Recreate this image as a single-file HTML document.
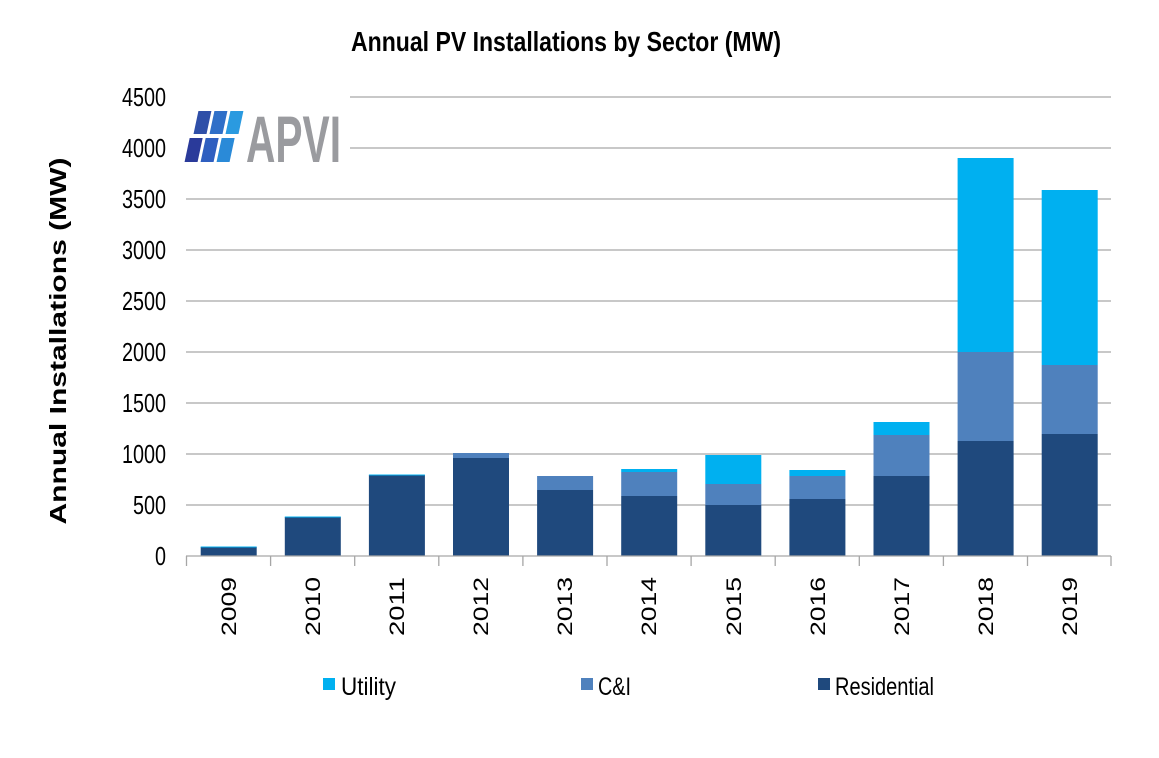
<!DOCTYPE html>
<html><head><meta charset="utf-8"><style>html,body{margin:0;padding:0;background:#fff}svg{display:block}</style></head>
<body>
<svg width="1159" height="758" viewBox="0 0 1159 758" xmlns="http://www.w3.org/2000/svg" font-family="Liberation Sans, sans-serif">
<rect width="1159" height="758" fill="#fff"/>
<text x="351" y="51" font-size="28" font-weight="bold" textLength="430" lengthAdjust="spacingAndGlyphs">Annual PV Installations by Sector (MW)</text>
<g stroke="#a6a6a6" stroke-width="1.3">
<line x1="350" y1="97" x2="1111" y2="97"/><line x1="350" y1="148" x2="1111" y2="148"/>
<line x1="186" y1="199" x2="1111" y2="199"/><line x1="186" y1="250" x2="1111" y2="250"/>
<line x1="186" y1="301" x2="1111" y2="301"/><line x1="186" y1="352" x2="1111" y2="352"/>
<line x1="186" y1="403" x2="1111" y2="403"/><line x1="186" y1="454" x2="1111" y2="454"/>
<line x1="186" y1="505" x2="1111" y2="505"/>
</g>
<g font-size="26" text-anchor="end">
<text x="166" y="106" textLength="44" lengthAdjust="spacingAndGlyphs">4500</text>
<text x="166" y="157" textLength="44" lengthAdjust="spacingAndGlyphs">4000</text>
<text x="166" y="208" textLength="44" lengthAdjust="spacingAndGlyphs">3500</text>
<text x="166" y="259" textLength="44" lengthAdjust="spacingAndGlyphs">3000</text>
<text x="166" y="310" textLength="44" lengthAdjust="spacingAndGlyphs">2500</text>
<text x="166" y="361" textLength="44" lengthAdjust="spacingAndGlyphs">2000</text>
<text x="166" y="412" textLength="44" lengthAdjust="spacingAndGlyphs">1500</text>
<text x="166" y="463" textLength="44" lengthAdjust="spacingAndGlyphs">1000</text>
<text x="166" y="514" textLength="33" lengthAdjust="spacingAndGlyphs">500</text>
<text x="166" y="565" textLength="11" lengthAdjust="spacingAndGlyphs">0</text>
</g>
<text transform="translate(66,341) rotate(-90)" text-anchor="middle" font-size="23" font-weight="bold" textLength="367" lengthAdjust="spacingAndGlyphs">Annual Installations (MW)</text>
<g>
<g transform="skewX(-12)">
<rect x="222" y="111" width="13" height="23" fill="#2f4fa8"/>
<rect x="238" y="111" width="13" height="23" fill="#2f6fc8"/>
<rect x="254" y="111" width="13" height="23" fill="#2a9ae0"/>
<rect x="219" y="138" width="13" height="24" fill="#2a3a9a"/>
<rect x="235" y="138" width="13" height="24" fill="#2f5fc0"/>
<rect x="251" y="138" width="13" height="24" fill="#2a8ad8"/>
</g>
<text x="246" y="162" font-size="66" font-weight="bold" fill="#9a9b9f" textLength="95" lengthAdjust="spacingAndGlyphs">APVI</text>
</g>
<g>
<rect x="200.7" y="547" width="56" height="9" fill="#1f497d"/><rect x="200.7" y="546.5" width="56" height="1" fill="#00b0f0"/>
<rect x="284.8" y="517" width="56" height="39" fill="#1f497d"/><rect x="284.8" y="516.5" width="56" height="1" fill="#00b0f0"/>
<rect x="368.9" y="475" width="56" height="81" fill="#1f497d"/><rect x="368.9" y="474.5" width="56" height="1" fill="#00b0f0"/>
<rect x="453" y="458" width="56" height="98" fill="#1f497d"/><rect x="453" y="453" width="56" height="5" fill="#4f81bd"/>
<rect x="537.1" y="490" width="56" height="66" fill="#1f497d"/><rect x="537.1" y="476" width="56" height="14" fill="#4f81bd"/>
<rect x="621.2" y="496" width="56" height="60" fill="#1f497d"/><rect x="621.2" y="472" width="56" height="24" fill="#4f81bd"/><rect x="621.2" y="469" width="56" height="3" fill="#00b0f0"/>
<rect x="705.3" y="505" width="56" height="51" fill="#1f497d"/><rect x="705.3" y="484" width="56" height="21" fill="#4f81bd"/><rect x="705.3" y="455" width="56" height="29" fill="#00b0f0"/>
<rect x="789.4" y="499" width="56" height="57" fill="#1f497d"/><rect x="789.4" y="476" width="56" height="23" fill="#4f81bd"/><rect x="789.4" y="470" width="56" height="6" fill="#00b0f0"/>
<rect x="873.5" y="476" width="56" height="80" fill="#1f497d"/><rect x="873.5" y="435" width="56" height="41" fill="#4f81bd"/><rect x="873.5" y="422" width="56" height="13" fill="#00b0f0"/>
<rect x="957.6" y="441" width="56" height="115" fill="#1f497d"/><rect x="957.6" y="352" width="56" height="89" fill="#4f81bd"/><rect x="957.6" y="158" width="56" height="194" fill="#00b0f0"/>
<rect x="1041.7" y="434" width="56" height="122" fill="#1f497d"/><rect x="1041.7" y="365" width="56" height="69" fill="#4f81bd"/><rect x="1041.7" y="190" width="56" height="175" fill="#00b0f0"/>
</g>
<g stroke="#a6a6a6" stroke-width="1.3">
<line x1="186" y1="556" x2="1111" y2="556"/>
<line x1="186.5" y1="556" x2="186.5" y2="566"/><line x1="270.6" y1="556" x2="270.6" y2="566"/>
<line x1="354.7" y1="556" x2="354.7" y2="566"/><line x1="438.8" y1="556" x2="438.8" y2="566"/>
<line x1="522.9" y1="556" x2="522.9" y2="566"/><line x1="607" y1="556" x2="607" y2="566"/>
<line x1="691.1" y1="556" x2="691.1" y2="566"/><line x1="775.2" y1="556" x2="775.2" y2="566"/>
<line x1="859.3" y1="556" x2="859.3" y2="566"/><line x1="943.4" y1="556" x2="943.4" y2="566"/>
<line x1="1027.5" y1="556" x2="1027.5" y2="566"/><line x1="1111" y1="556" x2="1111" y2="566"/>
</g>
<g font-size="21">
<text transform="translate(236,636) rotate(-90)" textLength="59" lengthAdjust="spacingAndGlyphs">2009</text>
<text transform="translate(320,636) rotate(-90)" textLength="59" lengthAdjust="spacingAndGlyphs">2010</text>
<text transform="translate(404,636) rotate(-90)" textLength="59" lengthAdjust="spacingAndGlyphs">2011</text>
<text transform="translate(488,636) rotate(-90)" textLength="59" lengthAdjust="spacingAndGlyphs">2012</text>
<text transform="translate(572,636) rotate(-90)" textLength="59" lengthAdjust="spacingAndGlyphs">2013</text>
<text transform="translate(656,636) rotate(-90)" textLength="59" lengthAdjust="spacingAndGlyphs">2014</text>
<text transform="translate(741,636) rotate(-90)" textLength="59" lengthAdjust="spacingAndGlyphs">2015</text>
<text transform="translate(825,636) rotate(-90)" textLength="59" lengthAdjust="spacingAndGlyphs">2016</text>
<text transform="translate(909,636) rotate(-90)" textLength="59" lengthAdjust="spacingAndGlyphs">2017</text>
<text transform="translate(993,636) rotate(-90)" textLength="59" lengthAdjust="spacingAndGlyphs">2018</text>
<text transform="translate(1077,636) rotate(-90)" textLength="59" lengthAdjust="spacingAndGlyphs">2019</text>
</g>
<g font-size="25">
<rect x="323" y="678" width="12" height="12" fill="#00b0f0"/>
<text x="341" y="695" textLength="55" lengthAdjust="spacingAndGlyphs">Utility</text>
<rect x="581" y="678" width="12" height="12" fill="#4f81bd"/>
<text x="598" y="695" textLength="33" lengthAdjust="spacingAndGlyphs">C&amp;I</text>
<rect x="818" y="678" width="12" height="12" fill="#1f497d"/>
<text x="835" y="695" textLength="99" lengthAdjust="spacingAndGlyphs">Residential</text>
</g>
</svg>
</body></html>
